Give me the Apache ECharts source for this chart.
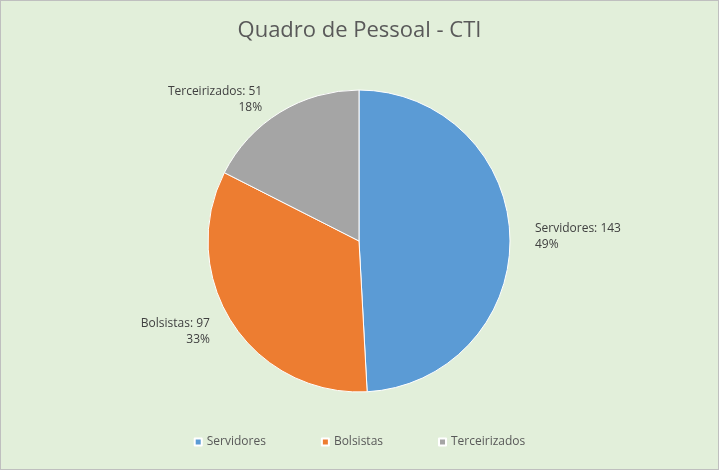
<!DOCTYPE html>
<html><head><meta charset="utf-8">
<script src="https://cdn.jsdelivr.net/npm/echarts@6/dist/echarts.min.js"></script>
<style>html,body{margin:0;padding:0;background:#fff}#c{width:717px;height:468px;border:1px solid #bfbfbf;}</style>
</head><body><div id="c"></div>
<script>
const categories = ["Servidores", "Bolsistas", "Terceirizados"];
const values = [143, 97, 51];
const colors = ["#5b9bd5", "#ed7d31", "#a5a5a5"];
const chart = echarts.init(document.getElementById('c'));
chart.setOption({
  backgroundColor: '#e2efda',
  title: {text: 'Quadro de Pessoal - CTI', left: 'center', top: 14,
    textStyle: {fontFamily: 'Open Sans', fontSize: 22, fontWeight: 'normal', color: '#595959'}},
  legend: {bottom: 16, left: 'center', itemWidth: 7, itemHeight: 7, icon: 'rect', itemGap: 55,
    textStyle: {fontFamily: 'Open Sans', fontSize: 12, color: '#595959'}},
  series: [{
    type: 'pie', center: [358, 240], radius: 151, startAngle: 90, clockwise: true,
    data: categories.map((n, i) => ({name: n, value: values[i], itemStyle: {color: colors[i]}})),
    label: {show: true, position: 'outside', formatter: p => p.name + ': ' + p.value + '\n' + Math.round(p.percent) + '%',
      fontFamily: 'Open Sans', fontSize: 12, color: '#404040', lineHeight: 16, align: 'center'},
    labelLine: {show: false, length: 15, length2: 5},
    itemStyle: {borderColor: '#ffffff', borderWidth: 1},
    emphasis: {disabled: true}
  }]
});
</script></body></html>
